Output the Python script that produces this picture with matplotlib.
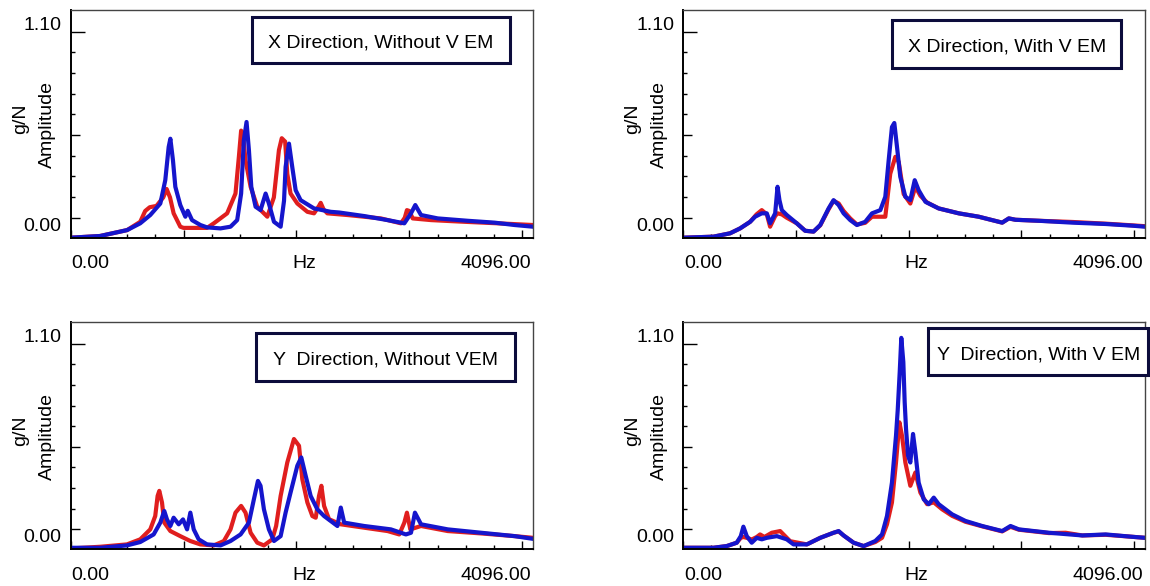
import numpy as np
import matplotlib
matplotlib.use("Agg")
import matplotlib.pyplot as plt
from matplotlib.patches import Rectangle

plt.rcParams['font.family'] = ['Liberation Sans', 'DejaVu Sans']

# frequency response amplitudes (g/N), frequency in Hz

# X direction, without VEM
f_xn_red = [0, 260, 500, 616, 660, 700, 760, 820, 850, 880, 912, 971, 1000, 1208, 1268, 1386,
            1460, 1490, 1510, 1525, 1549, 1594, 1653, 1742, 1800, 1845, 1870, 1900, 1919, 1948,
            2008, 2097, 2156, 2200, 2215, 2240, 2274, 2452, 2748, 2926, 2960, 2979, 3000, 3030,
            3193, 3489, 3785, 4096]
a_xn_red = [-0.118, -0.108, -0.073, -0.024, 0.04, 0.062, 0.07, 0.12, 0.17, 0.12, 0.026, -0.053,
            -0.06, -0.06, -0.033, 0.026, 0.143, 0.36, 0.515, 0.5, 0.34, 0.183, 0.065, 0.006,
            0.12, 0.40, 0.47, 0.45, 0.26, 0.143, 0.084, 0.035, 0.026, 0.07, 0.088, 0.05, 0.026,
            0.016, -0.004, -0.033, 0.0, 0.045, 0.04, -0.004, -0.014, -0.024, -0.033, -0.043]
f_xn_blue = [0, 260, 500, 616, 705, 794, 838, 868, 883, 906, 927, 971, 1016, 1037, 1075, 1149,
             1208, 1327, 1416, 1475, 1510, 1534, 1558, 1579, 1600, 1638, 1682, 1727, 1756, 1801,
             1860, 1890, 1904, 1934, 1963, 1993, 2037, 2156, 2304, 2378, 2600, 2808, 2956, 3015,
             3053, 3104, 3252, 3518, 3755, 3933, 4096]
a_xn_blue = [-0.118, -0.108, -0.073, -0.033, 0.016, 0.084, 0.222, 0.418, 0.467, 0.34, 0.183,
             0.075, 0.006, 0.041, -0.014, -0.043, -0.057, -0.063, -0.053, -0.014, 0.143, 0.458,
             0.566, 0.40, 0.183, 0.065, 0.045, 0.143, 0.084, -0.024, -0.053, 0.10, 0.30, 0.438,
             0.30, 0.163, 0.104, 0.055, 0.035, 0.031, 0.010, -0.014, -0.033, 0.026, 0.075, 0.016,
             -0.004, -0.018, -0.029, -0.043, -0.053]

# X direction, with VEM
f_xv_red = [0, 267, 415, 504, 593, 650, 696, 741, 770, 815, 836, 874, 918, 1007, 1081, 1155,
            1215, 1289, 1333, 1378, 1422, 1481, 1540, 1614, 1674, 1792, 1836, 1881, 1911, 1955,
            2014, 2059, 2103, 2163, 2266, 2444, 2621, 2829, 2888, 2947, 3155, 3451, 3747, 3984,
            4096]
a_xv_red = [-0.118, -0.112, -0.092, -0.063, -0.024, 0.02, 0.045, 0.02, -0.053, 0.01, 0.026,
            0.02, 0.0, -0.033, -0.077, -0.082, -0.045, 0.05, 0.10, 0.085, 0.04, -0.004, -0.04,
            -0.03, 0.006, 0.006, 0.26, 0.36, 0.33, 0.14, 0.084, 0.183, 0.13, 0.09, 0.055, 0.026,
            0.006, -0.029, -0.004, -0.012, -0.018, -0.025, -0.035, -0.045, -0.05]
f_xv_blue = [0, 267, 415, 504, 593, 637, 696, 741, 770, 815, 836, 853, 874, 918, 1007, 1081,
             1155, 1215, 1289, 1333, 1378, 1422, 1481, 1540, 1614, 1674, 1748, 1792, 1822, 1851,
             1872, 1896, 1925, 1970, 2014, 2053, 2088, 2148, 2266, 2444, 2621, 2829, 2888, 2947,
             3155, 3451, 3747, 3984, 4096]
a_xv_blue = [-0.118, -0.112, -0.092, -0.063, -0.024, 0.006, 0.026, 0.026, -0.033, 0.026, 0.183,
             0.104, 0.045, 0.016, -0.033, -0.077, -0.082, -0.043, 0.055, 0.104, 0.075, 0.026,
             -0.014, -0.043, -0.024, 0.026, 0.045, 0.124, 0.34, 0.536, 0.56, 0.418, 0.242, 0.124,
             0.104, 0.222, 0.163, 0.094, 0.055, 0.026, 0.006, -0.029, -0.004, -0.012, -0.018,
             -0.029, -0.037, -0.047, -0.053]

# Y direction, without VEM
f_yn_red = [0, 261, 498, 616, 705, 749, 770, 785, 809, 829, 883, 971, 1060, 1149, 1268, 1357,
            1416, 1460, 1510, 1549, 1594, 1653, 1712, 1786, 1820, 1860, 1919, 1978, 2023, 2052,
            2097, 2141, 2171, 2200, 2221, 2245, 2289, 2393, 2600, 2808, 2911, 2956, 2979, 3009,
            3104, 3341, 3637, 3933, 4096]
a_yn_red = [-0.113, -0.103, -0.089, -0.059, 0.0, 0.079, 0.198, 0.228, 0.159, 0.04, -0.01,
            -0.04, -0.069, -0.089, -0.095, -0.069, 0.0, 0.099, 0.139, 0.099, -0.02, -0.079,
            -0.095, -0.059, 0.02, 0.198, 0.396, 0.535, 0.495, 0.297, 0.159, 0.079, 0.069, 0.198,
            0.258, 0.139, 0.06, 0.03, 0.01, -0.01, -0.03, 0.04, 0.099, 0.0, 0.02, -0.01, -0.024,
            -0.04, -0.05]
f_yn_blue = [0, 261, 498, 616, 735, 794, 829, 853, 883, 912, 957, 995, 1031, 1060, 1090, 1134,
             1208, 1327, 1416, 1505, 1579, 1623, 1659, 1682, 1712, 1756, 1801, 1860, 1904, 1948,
             2008, 2043, 2082, 2126, 2185, 2245, 2363, 2393, 2423, 2600, 2837, 2970, 3015, 3050,
             3104, 3341, 3637, 3933, 4096]
a_yn_blue = [-0.109, -0.109, -0.095, -0.075, -0.03, 0.04, 0.109, 0.059, 0.02, 0.069, 0.03,
             0.059, 0.0, 0.099, 0.0, -0.059, -0.089, -0.095, -0.069, -0.03, 0.04, 0.178, 0.287,
             0.258, 0.119, 0.0, -0.069, -0.04, 0.099, 0.218, 0.377, 0.426, 0.317, 0.198, 0.119,
             0.079, 0.02, 0.129, 0.04, 0.02, 0.0, -0.03, -0.02, 0.099, 0.03, 0.0, -0.02, -0.04,
             -0.056]

# Y direction, with VEM
f_yv_red = [0, 267, 385, 474, 510, 533, 563, 607, 652, 681, 720, 785, 859, 948, 1096, 1215,
            1333, 1378, 1422, 1511, 1600, 1703, 1763, 1807, 1851, 1887, 1917, 1940, 1970, 2014,
            2059, 2103, 2163, 2222, 2296, 2385, 2503, 2651, 2829, 2903, 2977, 3244, 3392, 3540,
            3747, 3984, 4096]
a_yv_red = [-0.109, -0.109, -0.099, -0.079, -0.05, -0.045, -0.05, -0.06, -0.045, -0.03, -0.045,
            -0.02, -0.01, -0.07, -0.089, -0.05, -0.02, -0.012, -0.036, -0.079, -0.099, -0.075,
            -0.05, 0.03, 0.159, 0.396, 0.634, 0.555, 0.396, 0.258, 0.337, 0.218, 0.149, 0.16,
            0.119, 0.08, 0.045, 0.018, -0.012, 0.015, -0.002, -0.022, -0.02, -0.036, -0.032,
            -0.044, -0.05]
f_yv_blue = [0, 267, 385, 474, 510, 533, 563, 607, 652, 696, 741, 830, 918, 978, 1096, 1215,
             1333, 1378, 1422, 1511, 1600, 1703, 1763, 1807, 1851, 1887, 1902, 1920, 1934, 1952,
             1964, 1976, 1994, 2014, 2038, 2059, 2088, 2133, 2177, 2222, 2266, 2385, 2503, 2651,
             2829, 2903, 2977, 3244, 3540, 3747, 3984, 4096]
a_yv_blue = [-0.109, -0.109, -0.099, -0.079, -0.04, 0.016, -0.04, -0.079, -0.05, -0.059, -0.05,
             -0.04, -0.059, -0.089, -0.089, -0.05, -0.02, -0.01, -0.036, -0.079, -0.099, -0.069,
             -0.03, 0.079, 0.277, 0.555, 0.704, 0.932, 1.134, 0.991, 0.753, 0.595, 0.436, 0.396,
             0.565, 0.456, 0.277, 0.178, 0.149, 0.188, 0.149, 0.089, 0.05, 0.02, -0.01, 0.02,
             0.0, -0.02, -0.036, -0.03, -0.044, -0.05]

titles = ["X Direction, Without V EM", "X Direction, With V EM",
          "Y  Direction, Without VEM", "Y  Direction, With V EM"]

red = '#e01e1e'
blue = '#1515cc'
box_edge = '#0c0c3c'
fs = 14

W, H = 1150, 586
fig = plt.figure(figsize=(W / 100, H / 100), dpi=100)
fig.patch.set_facecolor('white')


def fig_rect(x0, y0, x1, y1):
    # pixel box (y from top) -> figure fraction
    return [x0 / W, 1 - y1 / H, (x1 - x0) / W, (y1 - y0) / H]


axes_px = [(70.7, 10, 533, 237.7), (683.3, 10, 1145, 237.7),
           (70.7, 322, 533, 549.3), (683.3, 322, 1145, 549.3)]
boxes_px = [(252.3, 16.7, 510, 63.3), (892.3, 20, 1121, 67.7),
            (256, 332.7, 515, 381), (928.3, 327.7, 1148, 375.3)]
series = [(f_xn_red, a_xn_red, f_xn_blue, a_xn_blue),
          (f_xv_red, a_xv_red, f_xv_blue, a_xv_blue),
          (f_yn_red, a_yn_red, f_yn_blue, a_yn_blue),
          (f_yv_red, a_yv_red, f_yv_blue, a_yv_blue)]

y_step = 1.1 / 9
y_major = [0, 4 * y_step, 1.1]
y_minor = [i * y_step for i in [1, 2, 3, 5, 6, 7, 8]]

for k in range(4):
    ax = fig.add_axes(fig_rect(*axes_px[k]))
    fr, ar, fb, ab = series[k]
    ax.plot(fr, ar, color=red, lw=3.0, solid_joinstyle='round')
    ax.plot(fb, ab, color=blue, lw=3.0, solid_joinstyle='round')
    ax.set_xlim(0, 4096)
    ax.set_ylim(-0.118, 1.228)

    ax.set_xticks([0, 1000, 2000, 3000, 4000])
    ax.set_xticks(np.arange(250, 4096, 250), minor=True)
    ax.set_yticks(y_major)
    ax.set_yticks(y_minor, minor=True)
    ax.set_xticklabels([])
    ax.set_yticklabels([])
    ax.tick_params(which='both', direction='in', color='black', width=1.0)
    ax.tick_params(axis='x', which='major', length=5.5)
    ax.tick_params(axis='x', which='minor', length=3)
    ax.tick_params(axis='y', which='major', length=6.5)
    ax.tick_params(axis='y', which='minor', length=3)
    ax.yaxis.get_major_ticks()[2].tick1line.set_markersize(10)

    for side in ['left', 'bottom']:
        ax.spines[side].set_linewidth(1.4)
        ax.spines[side].set_color('black')
    for side in ['top', 'right']:
        ax.spines[side].set_linewidth(1.0)
        ax.spines[side].set_color('#444444')

    # y tick labels
    ax.annotate('1.10', xy=(0, 1.1), xycoords=('axes fraction', 'data'), xytext=(-9, 1.5),
                textcoords='offset pixels', ha='right', va='baseline', fontsize=fs)
    ax.annotate('0.00', xy=(0, 0), xycoords=('axes fraction', 'data'), xytext=(-9, -13),
                textcoords='offset pixels', ha='right', va='baseline', fontsize=fs)
    # x labels
    ax.annotate('0.00', xy=(0, 0), xycoords='axes fraction', xytext=(1, -30.5),
                textcoords='offset pixels', ha='left', va='baseline', fontsize=fs)
    ax.annotate('Hz', xy=(0.5, 0), xycoords='axes fraction', xytext=(2, -30.5),
                textcoords='offset pixels', ha='center', va='baseline', fontsize=fs)
    ax.annotate('4096.00', xy=(1, 0), xycoords='axes fraction', xytext=(-2, -30.5),
                textcoords='offset pixels', ha='right', va='baseline', fontsize=fs)
    # two-line y label
    ax.annotate('Amplitude', xy=(0, 0.5), xycoords='axes fraction', xytext=(-19, -1),
                textcoords='offset pixels', ha='center', va='baseline', rotation=90,
                rotation_mode='anchor', fontsize=fs)
    ax.annotate('g/N', xy=(0, 0.5), xycoords='axes fraction', xytext=(-46, 5),
                textcoords='offset pixels', ha='center', va='baseline', rotation=90,
                rotation_mode='anchor', fontsize=fs)

    # caption box
    bx0, by0, bx1, by1 = boxes_px[k]
    r = fig_rect(bx0, by0, bx1, by1)
    fig.add_artist(Rectangle((r[0], r[1]), r[2], r[3], transform=fig.transFigure,
                             facecolor='white', edgecolor=box_edge, lw=2.2, zorder=5))
    fig.text((bx0 + bx1) / 2 / W, 1 - ((by0 + by1) / 2 + 7.5) / H, titles[k],
             ha='center', va='baseline', fontsize=fs, zorder=6)

fig.savefig('out.png', dpi=100, facecolor='white')
